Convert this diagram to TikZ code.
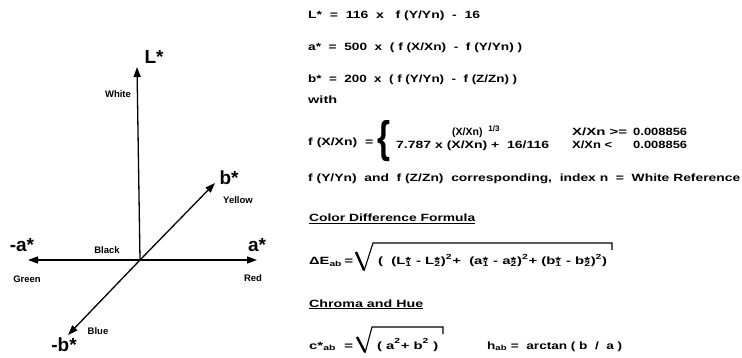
\documentclass[tikz,border=0pt]{standalone}
\usepackage{fontspec}
\usepackage{graphicx}
\usetikzlibrary{arrows.meta}
\newfontfamily\hv{Liberation Sans}
\newcommand\fitw[2]{\resizebox{#1}{\height}{#2}}
\newcommand\ssub[2]{#1\rlap{*}\textsubscript{#2}}
\newcommand\hisup[1]{\raisebox{2pt}{\textsuperscript{#1}}}
\tikzset{
  axis/.style={line width=1.3pt,-{Triangle[length=10pt,width=7pt]}},
  biglbl/.style={font=\hv\bfseries\fontsize{19}{20}\selectfont,inner sep=0},
  smalllbl/.style={font=\hv\bfseries\fontsize{9.5}{10}\selectfont,inner sep=0},
  eq/.style={anchor=base west,inner sep=0,font=\hv\bfseries\fontsize{10.5}{12}\selectfont},
  rad/.style={line width=1.1pt,line join=miter},
  radv/.style={line width=2.4pt,line join=miter}
}
\begin{document}
\begin{tikzpicture}[x=1pt,y=-1pt]
\useasboundingbox (0,0) rectangle (742,358);
% axes
\coordinate (O) at (140,260);
\coordinate (Lt) at (137,67);
\coordinate (At) at (257,260);
\coordinate (Amt) at (28,260);
\coordinate (Bt) at (215,183);
\coordinate (Bmt) at (68,335);
\draw[axis] (O) -- (Lt);
\draw[axis] (O) -- (At);
\draw[axis] (O) -- (Amt);
\draw[axis] (O) -- (Bt);
\draw[axis] (O) -- (Bmt);
\node[biglbl] (lL) at (154,57) {L*};
\node[biglbl] (la) at (257,245) {a*};
\node[biglbl] (lma) at (22,245) {-a*};
\node[biglbl] (lb) at (229,178) {b*};
\node[biglbl] (lmb) at (64,345) {-b*};
\node[smalllbl] (white) at (118,94) {White};
\node[smalllbl] (yellow) at (238,200) {Yellow};
\node[smalllbl] (black) at (107,250) {Black};
\node[smalllbl] (green) at (27,279) {Green};
\node[smalllbl] (red) at (253,278) {Red};
\node[smalllbl] (blue) at (98,331) {Blue};
% equations
\node[eq] (e1) at (308,19) {\fitw{172pt}{L*\ \ =\ \ 116\ \ x\ \ \ f (Y/Yn)\ \ -\ \ 16}};
\node[eq] (e2) at (308,51) {\fitw{214pt}{a*\ \ =\ \ 500\ \ x\ \ ( f (X/Xn)\ \ -\ \ f (Y/Yn) )}};
\node[eq] (e3) at (308,83) {\fitw{209pt}{b*\ \ =\ \ 200\ \ x\ \ ( f (Y/Yn)\ \ -\ \ f (Z/Zn) )}};
\node[eq] (with) at (308,104) {\fitw{29pt}{with}};
\node[eq] (fx) at (308,146) {\fitw{65pt}{f (X/Xn)\ \ =}};
\node[inner sep=0,anchor=west] (brace) at (377,141) {\resizebox{13pt}{32pt}{\hv\bfseries\{}};
\node[eq] (c1a) at (452,136) {(X/Xn)\ \ \raisebox{4pt}{\fontsize{8}{8}\selectfont 1/3}};
\node[eq] (c1b) at (572,136) {\fitw{55pt}{X/Xn >=}};
\node[eq] (c1c) at (633,136) {\fitw{54pt}{0.008856}};
\node[eq] (c2a) at (396,149) {\fitw{153pt}{7.787 x (X/Xn) +\ \ 16/116}};
\node[eq] (c2b) at (572,149) {\fitw{40pt}{X/Xn <}};
\node[eq] (c2c) at (633,149) {\fitw{54pt}{0.008856}};
\node[eq] (fy) at (308,182) {\fitw{432pt}{f (Y/Yn)\ \ and\ \ f (Z/Zn)\ \ corresponding,\ \ index n\ \ =\ \ White Reference}};
\node[eq] (h1) at (309,222) {\fitw{166pt}{\underline{Color Difference Formula}}};
\node[eq] (de) at (309,265) {\fitw{44pt}{ΔE\textsubscript{ab}\,=}};
\draw[radv] (356,252) -- (364,270);
\draw[rad] (364,271) -- (373,243) -- (612,243) -- (612,250);
\node[eq] (dein) at (378,265) {\fitw{229pt}{( \ (\ssub{L}{1} - \ssub{L}{2})\hisup{2}+\ \ (\ssub{a}{1} - \ssub{a}{2})\hisup{2}+ (\ssub{b}{1} - \ssub{b}{2})\hisup{2})}};
\node[eq] (h2) at (309,307) {\fitw{114pt}{\underline{Chroma and Hue}}};
\node[eq] (cab) at (309,349) {\fitw{44pt}{c*\textsubscript{ab}\ \ =}};
\draw[radv] (357,337) -- (365,352);
\draw[rad] (365,353) -- (372,327) -- (443,327) -- (443,334);
\node[eq] (cin) at (377,349) {\fitw{61pt}{( a\hisup{2}+\ b\hisup{2} )}};
\node[eq] (hab) at (487,349) {\fitw{135pt}{h\textsubscript{ab}\ =\ \ arctan ( b\ \ /\ \ a )}};
\end{tikzpicture}
\end{document}
